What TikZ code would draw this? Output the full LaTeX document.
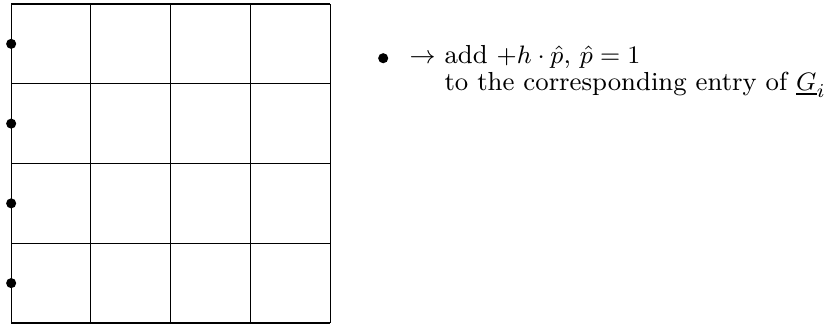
\documentclass[tikz,border=0pt]{standalone}
\usepackage{amsmath, amssymb}
\usepackage{tikz}

\begin{document}
\begin{tikzpicture}[pdot/.style={circle, fill, inner sep=0pt, minimum size=3.6pt},
  note/.style={align=left, inner sep=0pt, font=\fontsize{9.3}{9.5}\selectfont}]
  \useasboundingbox (-0.14,-0.05) rectangle (10.23,4.05);
  \draw (0,0) grid (4,4);
  \foreach \k in {1,...,4}
    \node[pdot] (d\k) at (0,\k-0.5) {};
  \node[pdot] (key) at (4.665,3.32) {};
  \node[note, anchor=base west] (rule) at (4.99,2.92)
    {$\rightarrow$ add $+h\cdot\hat{p}$, $\hat{p}=1$\\
     \hphantom{$\rightarrow$ }to the corresponding entry of $\underline{G}_i$};
\end{tikzpicture}
\end{document}
